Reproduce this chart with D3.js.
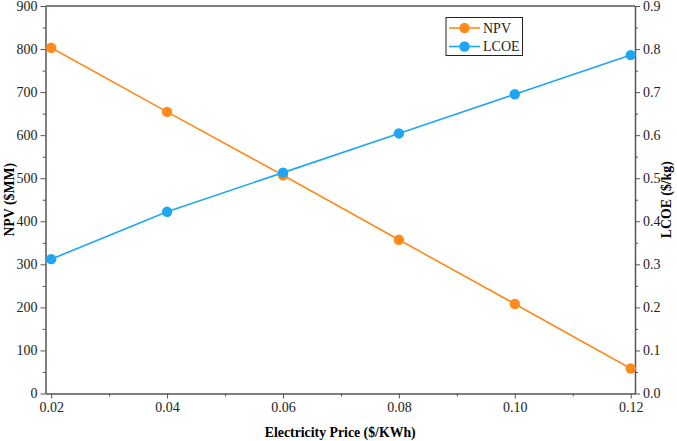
<!DOCTYPE html>
<html>
<head>
<meta charset="utf-8">
<script src="https://cdn.jsdelivr.net/npm/d3@7"></script>
<style>
  body { margin: 0; background: #fff; }
</style>
</head>
<body>
<div id="chart"></div>
<script>
// data
let prices = [0.02, 0.04, 0.06, 0.08, 0.10, 0.12];
let npv = [803, 654, 507, 357, 208, 58];
let lcoe = [0.312, 0.422, 0.513, 0.604, 0.695, 0.786];
let xTicks = [0.02, 0.04, 0.06, 0.08, 0.10, 0.12];
let npvTicks = [0, 100, 200, 300, 400, 500, 600, 700, 800, 900];
let lcoeTicks = [0, 0.1, 0.2, 0.3, 0.4, 0.5, 0.6, 0.7, 0.8, 0.9];

let width = 677;
let height = 441;
let plotLeft = 45.5, plotRight = 635, plotTop = 6, plotBottom = 393.5;

let serif = 'Liberation Serif, Times New Roman, serif';
let orange = '#ff8a1c';
let blue = '#1ea6f2';
let axisColor = '#555';

let svg = d3.select('#chart')
	.append('svg')
	.attr('width', width)
	.attr('height', height)
	.attr('font-family', serif);

let x = d3.scaleLinear()
	.domain([0.01902, 0.12074])
	.range([plotLeft, plotRight]);

let yL = d3.scaleLinear()
	.domain([0, 900])
	.range([plotBottom, plotTop]);

let yR = d3.scaleLinear()
	.domain([0, 0.9])
	.range([plotBottom, plotTop]);

// frame top line
svg.append('line')
	.attr('x1', plotLeft).attr('x2', plotRight)
	.attr('y1', plotTop).attr('y2', plotTop)
	.attr('stroke', '#000')
	.attr('stroke-width', 1);

function styleAxis(g){
	g.attr('font-family', serif).attr('font-size', 14);
	g.select('.domain').attr('stroke', axisColor).attr('stroke-width', 1.5);
	g.selectAll('.tick line').attr('stroke', axisColor).attr('stroke-width', 1);
	g.selectAll('.tick text').attr('fill', '#222');
}

// minor ticks halfway between majors
function minor(ticks){
	let m = [];
	for(let i = 0; i < ticks.length - 1; i++){
		m.push((ticks[i] + ticks[i + 1]) / 2);
	}
	return m;
}

let gx = svg.append('g')
	.attr('transform', 'translate(0,' + plotBottom + ')')
	.call(d3.axisBottom(x).tickValues(xTicks).tickSize(5).tickSizeOuter(0).tickPadding(4)
		.tickFormat(d3.format('.2f')));
styleAxis(gx);
svg.append('g')
	.attr('transform', 'translate(0,' + plotBottom + ')')
	.call(d3.axisBottom(x).tickValues(minor(xTicks)).tickSize(3).tickFormat(''))
	.call(g => g.select('.domain').remove())
	.selectAll('line').attr('stroke', axisColor);

let gl = svg.append('g')
	.attr('transform', 'translate(' + plotLeft + ',0)')
	.call(d3.axisLeft(yL).tickValues(npvTicks).tickSize(5).tickSizeOuter(0).tickPadding(3));
styleAxis(gl);
svg.append('g')
	.attr('transform', 'translate(' + plotLeft + ',0)')
	.call(d3.axisLeft(yL).tickValues(minor(npvTicks)).tickSize(3).tickFormat(''))
	.call(g => g.select('.domain').remove())
	.selectAll('line').attr('stroke', axisColor);

let gr = svg.append('g')
	.attr('transform', 'translate(' + plotRight + ',0)')
	.call(d3.axisRight(yR).tickValues(lcoeTicks).tickSize(5).tickSizeOuter(0).tickPadding(3)
		.tickFormat(d3.format('.1f')));
styleAxis(gr);
svg.append('g')
	.attr('transform', 'translate(' + plotRight + ',0)')
	.call(d3.axisRight(yR).tickValues(minor(lcoeTicks)).tickSize(3).tickFormat(''))
	.call(g => g.select('.domain').remove())
	.selectAll('line').attr('stroke', axisColor);

// axis titles
svg.append('text')
	.attr('x', (plotLeft + plotRight) / 2)
	.attr('y', 437)
	.attr('text-anchor', 'middle')
	.attr('font-size', 13.8)
	.attr('font-weight', 'bold')
	.text('Electricity Price ($/KWh)');

svg.append('text')
	.attr('transform', 'translate(14,' + (plotTop + plotBottom) / 2 + ') rotate(-90)')
	.attr('text-anchor', 'middle')
	.attr('font-size', 13.8)
	.attr('font-weight', 'bold')
	.text('NPV ($MM)');

svg.append('text')
	.attr('transform', 'translate(671,' + (plotTop + plotBottom) / 2 + ') rotate(-90)')
	.attr('text-anchor', 'middle')
	.attr('font-size', 13.8)
	.attr('font-weight', 'bold')
	.text('LCOE ($/kg)');

// series
let series = [
	{name: 'NPV', values: npv, y: yL, color: orange},
	{name: 'LCOE', values: lcoe, y: yR, color: blue}
];

series.forEach(function(s){
	let line = d3.line()
		.x((d, i) => x(prices[i]))
		.y(d => s.y(d));
	svg.append('path')
		.datum(s.values)
		.attr('d', line)
		.attr('fill', 'none')
		.attr('stroke', s.color)
		.attr('stroke-width', 1.6);
	svg.append('g')
		.selectAll('circle')
		.data(s.values)
		.enter()
		.append('circle')
		.attr('cx', (d, i) => x(prices[i]))
		.attr('cy', d => s.y(d))
		.attr('r', 5.2)
		.attr('fill', s.color);
});

// legend
let legend = svg.append('g');
legend.append('rect')
	.attr('x', 446).attr('y', 17.5)
	.attr('width', 76.5).attr('height', 38)
	.attr('fill', '#fff')
	.attr('stroke', '#222')
	.attr('stroke-width', 1);

series.forEach(function(s, i){
	let ly = 28 + i * 18.5;
	legend.append('line')
		.attr('x1', 449).attr('x2', 480)
		.attr('y1', ly).attr('y2', ly)
		.attr('stroke', s.color)
		.attr('stroke-width', 1.6);
	legend.append('circle')
		.attr('cx', 464.5).attr('cy', ly)
		.attr('r', 5.2)
		.attr('fill', s.color);
	legend.append('text')
		.attr('x', 483)
		.attr('y', ly + 4.5)
		.attr('font-size', 14)
		.attr('fill', '#222')
		.text(s.name);
});
</script>
</body>
</html>
